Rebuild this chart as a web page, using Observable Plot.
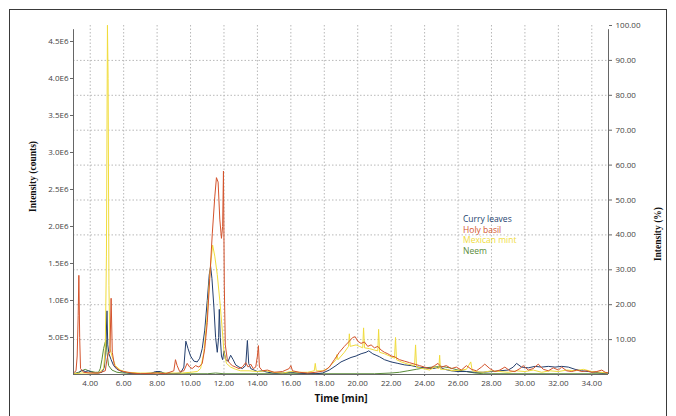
<!DOCTYPE html>
<html>
<head>
<meta charset="utf-8">
<script src="https://cdn.jsdelivr.net/npm/d3@7"></script>
<script src="https://cdn.jsdelivr.net/npm/@observablehq/plot@0.6"></script>
<style>
  html, body { margin: 0; padding: 0; background: #fff; overflow: hidden; }
  #wrap { position: relative; width: 676px; height: 416px; }
  #border { position: absolute; left: 9px; top: 9px; width: 658px; height: 420px; border: 1px solid #3a3a3a; box-sizing: border-box; pointer-events: none; }
  #legend { position: absolute; left: 463px; top: 214px; font-family: "Open Sans", sans-serif; font-size: 8.5px; line-height: 10.7px; }
</style>
</head>
<body>
<div id="wrap"><div id="border"></div><div id="chart"></div><div id="legend"></div></div>
<script>
// ---- data (intensity in units of 1E6 counts, time in minutes) ----
const seriesNames = ["Curry leaves", "Holy basil", "Mexican mint", "Neem"];
const seriesColors = ["#243f6e", "#d4532c", "#f0dc3c", "#5a8c3a"];

const curryT = [3.0,3.3,3.5,3.7,3.9,4.1,4.3,4.5,4.7,4.85,4.95,5.0,5.05,5.12,5.25,5.4,5.6,5.9,6.3,7.0,7.6,7.9,8.2,8.5,9.0,9.4,9.6,9.72,9.85,10.0,10.2,10.4,10.55,10.7,10.85,11.0,11.12,11.2,11.28,11.4,11.5,11.6,11.68,11.72,11.78,11.85,11.92,12.0,12.1,12.25,12.4,12.55,12.7,12.9,13.1,13.3,13.4,13.48,13.6,13.8,14.0,14.3,14.6,15.0,15.5,16.0,16.5,17.0,17.5,17.9,18.3,18.7,19.0,19.3,19.6,19.9,20.2,20.5,20.66,20.9,21.1,21.3,21.6,22.0,22.4,22.8,23.2,23.6,24.0,24.5,24.9,25.2,25.6,26.0,26.5,27.0,27.5,28.0,28.5,29.0,29.3,29.5,29.8,30.2,30.6,31.0,31.4,31.8,32.2,32.6,33.0,33.4,33.8,34.2,34.6,35.0];
const curryV = [0.01,0.02,0.06,0.04,0.05,0.03,0.02,0.02,0.03,0.1,0.45,0.86,0.4,0.28,0.2,0.12,0.07,0.04,0.02,0.01,0.01,0.04,0.04,0.01,0.01,0.02,0.1,0.45,0.35,0.25,0.18,0.17,0.22,0.35,0.6,1.0,1.35,1.46,1.3,0.9,0.5,0.3,0.5,0.88,0.5,0.25,0.2,0.32,0.2,0.18,0.26,0.2,0.13,0.1,0.08,0.12,0.46,0.15,0.08,0.06,0.04,0.05,0.03,0.02,0.02,0.03,0.02,0.01,0.01,0.02,0.06,0.12,0.17,0.2,0.23,0.25,0.28,0.3,0.32,0.28,0.26,0.24,0.2,0.17,0.15,0.13,0.12,0.1,0.09,0.08,0.1,0.07,0.05,0.04,0.04,0.03,0.03,0.04,0.05,0.06,0.1,0.15,0.1,0.09,0.11,0.1,0.11,0.1,0.11,0.1,0.07,0.05,0.04,0.03,0.02,0.02];

const basilT = [3.0,3.15,3.22,3.28,3.32,3.37,3.42,3.6,4.0,4.5,4.9,5.0,5.1,5.18,5.25,5.32,5.45,5.7,6.0,6.5,7.0,8.0,8.5,9.0,9.1,9.2,9.35,9.6,9.8,9.95,10.1,10.3,10.5,10.7,10.85,11.0,11.15,11.3,11.45,11.55,11.65,11.75,11.85,11.92,11.97,12.02,12.08,12.2,12.35,12.5,12.7,12.9,13.1,13.3,13.45,13.6,13.75,13.9,14.0,14.06,14.12,14.3,14.6,15.0,15.5,15.9,16.0,16.1,16.5,17.0,17.5,18.0,18.3,18.6,18.9,19.2,19.5,19.7,19.85,20.0,20.2,20.4,20.6,20.8,21.0,21.2,21.4,21.6,21.8,22.0,22.2,22.5,22.8,23.1,23.4,23.7,24.0,24.3,24.6,24.8,25.0,25.3,25.6,25.9,26.2,26.5,26.8,27.1,27.4,27.6,27.9,28.2,28.5,28.8,29.1,29.4,29.7,29.9,30.2,30.5,30.8,31.1,31.4,31.7,32.0,32.2,32.5,32.8,33.1,33.4,33.7,34.0,34.3,34.6,34.8,35.0];
const basilV = [0.02,0.05,0.25,0.8,1.34,0.5,0.08,0.03,0.02,0.02,0.05,0.2,0.3,0.3,1.03,0.3,0.12,0.06,0.04,0.02,0.01,0.02,0.01,0.05,0.2,0.12,0.04,0.05,0.15,0.1,0.08,0.12,0.1,0.15,0.35,0.7,1.3,1.9,2.4,2.66,2.6,2.1,1.84,2.0,2.75,1.2,0.4,0.2,0.15,0.12,0.1,0.08,0.1,0.16,0.1,0.14,0.08,0.1,0.25,0.39,0.1,0.05,0.06,0.03,0.04,0.08,0.12,0.05,0.03,0.02,0.03,0.05,0.1,0.2,0.3,0.38,0.45,0.5,0.51,0.45,0.42,0.44,0.38,0.4,0.36,0.38,0.33,0.3,0.28,0.25,0.24,0.2,0.18,0.16,0.14,0.12,0.1,0.08,0.12,0.15,0.1,0.12,0.08,0.1,0.06,0.12,0.07,0.05,0.1,0.14,0.08,0.04,0.06,0.1,0.05,0.04,0.08,0.12,0.06,0.08,0.14,0.07,0.05,0.09,0.06,0.1,0.05,0.04,0.06,0.04,0.05,0.03,0.04,0.06,0.03,0.02];

const mintT = [3.0,3.5,4.0,4.5,4.8,4.9,4.97,5.03,5.07,5.12,5.18,5.3,5.5,5.8,6.2,7.0,8.0,9.0,9.5,10.0,10.4,10.6,10.8,11.0,11.15,11.32,11.45,11.6,11.75,11.9,12.0,12.15,12.4,12.7,13.0,13.5,14.0,14.5,15.0,15.5,16.0,16.5,17.0,17.4,17.46,17.52,17.9,18.2,18.5,18.7,18.76,18.82,19.2,19.45,19.5,19.55,19.9,20.1,20.3,20.35,20.41,20.7,21.0,21.2,21.25,21.31,21.6,21.9,22.2,22.26,22.32,22.6,23.0,23.4,23.46,23.52,23.9,24.3,24.6,24.85,24.9,24.95,25.3,25.7,26.1,26.5,26.76,26.85,27.0,27.5,28.0,28.5,29.0,29.5,30.0,30.5,31.0,31.5,32.0,32.5,33.0,33.5,34.0,34.5,35.0];
const mintV = [0.01,0.02,0.02,0.02,0.08,0.35,1.6,4.72,4.0,1.2,0.35,0.25,0.12,0.06,0.03,0.02,0.02,0.02,0.02,0.03,0.04,0.08,0.3,0.8,1.35,1.75,1.6,1.35,1.0,0.6,0.3,0.15,0.1,0.07,0.05,0.05,0.04,0.05,0.03,0.02,0.04,0.03,0.03,0.05,0.15,0.05,0.05,0.08,0.15,0.2,0.27,0.2,0.3,0.38,0.55,0.38,0.4,0.38,0.36,0.63,0.36,0.35,0.33,0.32,0.61,0.3,0.28,0.25,0.22,0.5,0.2,0.17,0.14,0.12,0.4,0.1,0.08,0.06,0.1,0.08,0.26,0.07,0.07,0.05,0.06,0.07,0.17,0.05,0.04,0.03,0.05,0.04,0.03,0.05,0.04,0.06,0.03,0.05,0.04,0.06,0.05,0.07,0.04,0.03,0.02];

const neemT = [3.0,3.3,3.5,3.7,3.9,4.1,4.3,4.5,4.6,4.7,4.8,4.9,4.95,5.0,5.1,5.3,5.6,6.0,7.0,7.8,8.0,8.3,9.0,10.0,11.0,11.5,12.0,14.0,16.0,18.0,20.0,21.0,22.0,22.5,23.0,23.5,24.0,24.5,25.0,25.5,26.0,26.5,27.0,27.5,28.0,30.0,32.0,34.0,35.0];
const neemV = [0.01,0.03,0.05,0.07,0.05,0.04,0.03,0.03,0.08,0.2,0.35,0.44,0.46,0.3,0.12,0.06,0.03,0.02,0.01,0.02,0.03,0.02,0.01,0.01,0.01,0.02,0.01,0.01,0.01,0.01,0.01,0.01,0.02,0.03,0.05,0.07,0.09,0.1,0.11,0.09,0.06,0.04,0.02,0.01,0.01,0.01,0.01,0.01,0.01];

const xTicks = [4,6,8,10,12,14,16,18,20,22,24,26,28,30,32,34];
const xTickLabels = ["4.00","6.00","8.00","10.00","12.00","14.00","16.00","18.00","20.00","22.00","24.00","26.00","28.00","30.00","32.00","34.00"];
const countTicks = [0.5,1.0,1.5,2.0,2.5,3.0,3.5,4.0,4.5];
const countTickLabels = ["5.0E5","1.0E6","1.5E6","2.0E6","2.5E6","3.0E6","3.5E6","4.0E6","4.5E6"];
const pctTicks = [10,20,30,40,50,60,70,80,90,100];
const pctTickLabels = ["10.00","20.00","30.00","40.00","50.00","60.00","70.00","80.00","90.00","100.00"];
const fullScale = 4.716; // 100 % in units of 1E6 counts
const timeDomain = [3, 35];

// ---- build rows ----
const seriesT = [curryT, basilT, mintT, neemT];
const seriesV = [curryV, basilV, mintV, neemV];
const rows = [];
seriesNames.forEach((name, s) => {
  seriesT[s].forEach((t, i) => rows.push({series: name, t, v: seriesV[s][i]}));
});
const drawOrder = ["Neem", "Curry leaves", "Mexican mint", "Holy basil"];
const pctPos = pctTicks.map(p => p / 100 * fullScale);
const tickFont = "'Open Sans', sans-serif";

const chart = Plot.plot({
  width: 676,
  height: 416,
  marginLeft: 73,
  marginRight: 68,
  marginTop: 25,
  marginBottom: 42,
  style: {fontFamily: tickFont, color: "#444", background: "transparent"},
  x: {domain: timeDomain},
  y: {domain: [0, fullScale]},
  color: {domain: seriesNames, range: seriesColors},
  marks: [
    Plot.gridX(xTicks, {stroke: "#b8b8b8", strokeOpacity: 1, strokeDasharray: "1.5,2"}),
    Plot.gridY(pctPos.slice(0, -1), {stroke: "#b8b8b8", strokeOpacity: 1, strokeDasharray: "1.5,2"}),
    ...drawOrder.map(name => Plot.line(rows.filter(d => d.series === name), {
      x: "t", y: "v", stroke: "series", strokeWidth: 1, clip: true
    })),
    Plot.ruleX([timeDomain[0]], {y1: 0, y2: fullScale * 0.988, stroke: "#666"}),
    Plot.ruleX([timeDomain[1]], {y1: 0, y2: fullScale * 0.988, stroke: "#666"}),
    Plot.ruleY([0], {stroke: "#666"}),
    Plot.axisX({ticks: xTicks, tickFormat: (d, i) => xTickLabels[i], tickSize: 2, tickPadding: 4, fontSize: 8, label: null, stroke: "#666", fill: "#444"}),
    Plot.axisY({anchor: "left", ticks: countTicks, tickFormat: (d, i) => countTickLabels[i], tickSize: 3, tickPadding: 2, fontSize: 8, label: null, stroke: "#666", fill: "#444"}),
    Plot.axisY({anchor: "right", ticks: pctPos, tickFormat: (d, i) => pctTickLabels[i], tickSize: 3, tickPadding: 4, fontSize: 8, label: null, stroke: "#666", fill: "#444"}),
    Plot.text(["Intensity (counts)"], {frameAnchor: "left", dx: -41, dy: 12, rotate: -90, fontFamily: "'Liberation Serif', serif", fontWeight: "bold", fontSize: 9.5, fill: "#111"}),
    Plot.text(["Intensity (%)"], {frameAnchor: "right", dx: 49, dy: 7, rotate: -90, fontFamily: "'Liberation Serif', serif", fontWeight: "bold", fontSize: 9.5, fill: "#111"}),
    Plot.text(["Time [min]"], {frameAnchor: "bottom", dy: 27, fontFamily: tickFont, fontWeight: "bold", fontSize: 10, fill: "#111"})
  ]
});
document.getElementById("chart").appendChild(chart);

const legend = document.getElementById("legend");
seriesNames.forEach((name, i) => {
  const div = document.createElement("div");
  div.textContent = name;
  div.style.color = seriesColors[i];
  legend.appendChild(div);
});
</script>
</body>
</html>
